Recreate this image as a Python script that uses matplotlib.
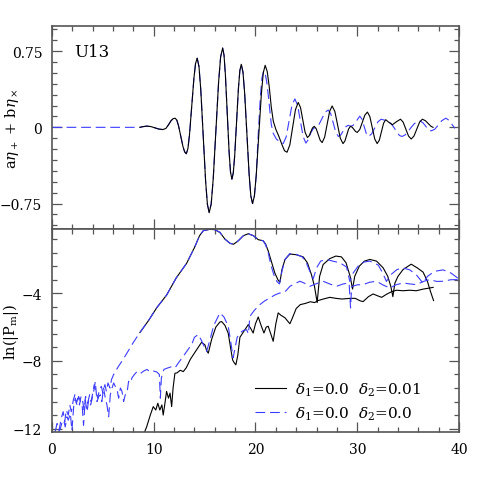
import matplotlib
matplotlib.use('Agg')
import matplotlib.pyplot as plt
from matplotlib.ticker import MultipleLocator, FixedLocator, FuncFormatter
import numpy as np

plt.rcParams['font.family'] = ['DejaVu Serif']
plt.rcParams['mathtext.fontset'] = 'dejavuserif'
plt.rcParams['lines.scale_dashes'] = False

# ---- top panel: a*eta_plus + b*eta_cross ----
# blue (delta2 = 0) is flat before the black curve starts
t_wave_lead = [0.0, 8.64]
h_wave_lead = [0.0, 0.0]

# part shared by both runs
t_wave = [8.64, 8.9, 9.3, 9.7, 10.1, 10.5, 10.9, 11.2, 11.45, 11.7, 11.9, 12.1,
          12.265, 12.43, 12.65, 12.87, 13.035, 13.2,
          13.36, 13.52, 13.735, 13.95, 14.11, 14.27,
          14.447, 14.624, 14.86, 15.096, 15.273, 15.45,
          15.648, 15.846, 16.11, 16.374, 16.572, 16.77,
          16.907, 17.043, 17.225, 17.407, 17.543, 17.68,
          17.818, 17.956, 18.14, 18.324, 18.462, 18.6,
          18.767, 18.933, 19.155, 19.377, 19.543, 19.71,
          19.89, 20.07]
h_wave = [0.0, 0.006, 0.012, 0.008, -0.005, -0.017, -0.022, -0.01, 0.025, 0.065, 0.085, 0.09,
          0.071, 0.018, -0.085, -0.188, -0.241, -0.26,
          -0.209, -0.066, 0.21, 0.486, 0.629, 0.68,
          0.597, 0.367, -0.08, -0.527, -0.757, -0.84,
          -0.752, -0.506, -0.03, 0.446, 0.692, 0.78,
          0.71, 0.514, 0.135, -0.244, -0.44, -0.51,
          -0.448, -0.277, 0.055, 0.387, 0.558, 0.62,
          0.545, 0.338, -0.065, -0.468, -0.675, -0.75,
          -0.677, -0.475]

# delta2 = 0.01 (black)
t_wave_k = [20.33, 20.578, 20.764, 20.95, 21.15, 21.35, 21.55, 21.75, 22.0, 22.3, 22.6, 22.85, 23.1,
            23.375, 23.65, 23.925, 24.2, 24.425, 24.65, 24.875, 25.1, 25.27, 25.435, 25.6, 25.77,
            25.965, 26.16, 26.355, 26.55, 26.795, 27.04, 27.285, 27.53, 27.8, 28.065, 28.33, 28.6,
            28.785, 28.97, 29.155, 29.34, 29.505, 29.67, 29.835, 30.0, 30.25, 30.5, 30.75, 31.0,
            31.24, 31.48, 31.72, 31.96, 32.17, 32.38, 32.59, 32.8, 33.1, 33.45, 33.85, 34.25,
            34.51, 34.775, 35.04, 35.3, 35.575, 35.85, 36.125, 36.4, 36.7, 37.0, 37.25, 37.45]
h_wave_k = [-0.07, 0.33, 0.536, 0.61, 0.55, 0.4, 0.2, 0.06, -0.02, -0.09, -0.17, -0.23, -0.245,
            -0.173, 0.0, 0.173, 0.245, 0.194, 0.0725, -0.049, -0.1, -0.084, -0.045, -0.006, 0.01,
            -0.013, -0.07, -0.127, -0.15, -0.097, 0.03, 0.157, 0.21, 0.156, 0.025, -0.106, -0.16,
            -0.135, -0.075, -0.015, 0.01, 0.001, -0.02, -0.041, -0.05, -0.021, 0.05, 0.121, 0.15,
            0.105, -0.005, -0.115, -0.16, -0.126, -0.0425, 0.041, 0.075, 0.05, 0.025, 0.055, 0.08,
            0.051, -0.0175, -0.086, -0.115, -0.086, -0.0175, 0.051, 0.08, 0.065, 0.035, 0.01, 0.0]

# delta2 = 0 (blue)
t_wave_b = [20.255, 20.47, 20.63, 20.8, 20.95, 21.1, 21.25, 21.4, 21.55, 21.75, 22.05, 22.4, 22.72,
            23.01, 23.295, 23.58, 23.87, 24.14, 24.41, 24.68, 24.95, 25.2, 25.45, 25.7, 25.95,
            26.25, 26.55, 26.85, 27.15, 27.4, 27.65, 27.9, 28.15, 28.39, 28.625, 28.86, 29.1,
            29.35, 29.6, 29.9, 30.25, 30.46, 30.675, 30.89, 31.1, 31.41, 31.725, 32.04, 32.35,
            32.7, 33.0, 33.3, 33.6, 33.9, 34.15, 34.4, 34.7, 35.0, 35.3, 35.6, 35.9, 36.15,
            36.45, 36.7, 36.95, 37.25, 37.6, 37.95, 38.3, 38.7, 39.0, 39.3, 39.6]
h_wave_b = [-0.0975, 0.286, 0.484, 0.555, 0.53, 0.45, 0.32, 0.17, 0.03, -0.06, -0.115, -0.145, -0.16,
            -0.096, 0.06, 0.216, 0.28, 0.216, 0.0625, -0.091, -0.155, -0.12, -0.05, -0.01, 0.0,
            0.03, 0.09, 0.15, 0.17, 0.132, 0.04, -0.052, -0.09, -0.074, -0.035, 0.004, 0.02,
            0.01, 0.02, 0.06, 0.11, 0.081, 0.01, -0.061, -0.09, -0.065, -0.005, 0.055, 0.08,
            0.07, 0.055, 0.04, 0.0, -0.05, -0.08, -0.09, -0.075, -0.04, 0.0, 0.035, 0.058, 0.065,
            0.045, 0.015, -0.02, -0.035, -0.02, 0.02, 0.065, 0.09, 0.07, 0.03, -0.01]

# ---- bottom panel: ln|P_m| ----
# upper mode, shared rise
t_pu = [8.64, 9.5, 10.3, 11.27, 12.2, 13.23, 14.0, 14.5, 14.87, 15.5, 16.0, 16.5, 17.0, 17.5, 17.85,
        18.3, 18.8, 19.29, 19.8, 20.27, 20.76]
lp_pu = [-6.32, -5.6, -4.85, -4.1, -3.1, -2.23, -1.3, -0.6, -0.3, -0.22, -0.24, -0.4, -0.8, -1.05, -1.1,
         -0.9, -0.6, -0.48, -0.6, -0.83, -0.9]

# upper mode, blue noisy start
t_pu_b0 = [0.3, 0.5, 0.7, 0.9, 1.1, 1.25, 1.4, 1.6, 1.75, 1.9, 2.1, 2.25, 2.4, 2.55, 2.7, 2.85, 3.0,
           3.15, 3.3, 3.5, 3.7, 3.85, 4.0, 4.15, 4.3, 4.5, 4.65, 4.85, 5.0, 5.2, 5.35, 5.5, 5.7,
           5.85, 6.06, 6.5, 7.0, 7.5, 8.0]
lp_pu_b0 = [-12.2, -11.7, -12.1, -11.4, -11.0, -11.6, -10.9, -11.2, -10.6, -11.0, -10.3, -10.0, -10.5,
            -10.2, -10.6, -10.1, -10.3, -10.9, -10.1, -10.5, -10.0, -10.4, -9.9, -9.4, -9.8, -10.2,
            -9.7, -9.5, -9.9, -9.4, -9.8, -9.3, -9.6, -9.1, -8.8, -8.35, -7.9, -7.4, -6.9]

# upper mode tails
t_pu_k = [21.0, 21.25, 21.6, 21.9, 22.2, 22.4, 22.6, 22.9, 23.38, 24.0, 24.69, 25.1, 25.5, 25.8, 26.06,
          26.3, 26.65, 27.3, 27.9, 28.45, 28.9, 29.3, 29.54, 29.75, 30.2, 30.7, 31.24, 31.9, 32.55,
          33.0, 33.3, 33.5, 33.7, 34.0, 34.5, 35.3, 35.9, 36.47, 36.9, 37.2, 37.5]
lp_pu_k = [-1.1, -1.5, -2.2, -2.8, -3.2, -3.35, -2.6, -2.0, -1.68, -1.72, -1.85, -2.2, -2.9, -3.6, -4.55,
           -3.0, -2.3, -1.95, -1.8, -1.85, -2.2, -3.0, -3.75, -3.0, -2.4, -2.1, -2.0, -2.1, -2.5,
           -3.0, -3.6, -4.2, -3.4, -3.0, -2.6, -2.28, -2.5, -2.75, -3.3, -3.9, -4.43]
t_pu_b = [21.0, 21.25, 21.5, 21.8, 22.1, 22.35, 22.6, 22.9, 23.38, 24.0, 24.6, 25.0, 25.4, 25.67, 26.0,
          26.4, 26.98, 27.6, 28.3, 28.95, 29.27, 29.6, 30.2, 30.7, 31.24, 32.06, 32.5, 32.87, 33.3,
          33.9, 34.5, 35.17, 35.8, 36.47, 36.9, 37.6, 38.44, 39.2, 39.9]
lp_pu_b = [-1.15, -1.6, -2.3, -2.9, -3.3, -3.45, -2.7, -2.0, -1.65, -1.7, -1.85, -2.2, -2.8, -3.15, -2.5,
           -2.1, -2.0, -2.1, -2.2, -2.45, -3.3, -2.8, -2.3, -2.15, -2.1, -2.33, -2.8, -3.3, -2.9,
           -2.6, -2.5, -2.62, -2.9, -3.41, -3.0, -2.7, -2.62, -2.8, -3.11]

# lower mode, delta2 = 0.01 (black)
t_pl_k = [9.1, 9.3, 9.66, 9.95, 10.2, 10.4, 10.6, 10.8, 10.93, 11.1, 11.26, 11.45, 11.6, 11.76, 11.9,
          12.08, 12.3, 12.6, 12.9, 13.2, 13.6, 14.2, 14.7, 15.03, 15.2, 15.36, 15.7, 16.1, 16.5,
          16.67, 17.0, 17.32, 17.6, 17.75, 17.9, 18.07, 18.25, 18.47, 18.8, 19.29, 19.55, 19.77,
          20.0, 20.27, 20.55, 20.83, 21.05, 21.25, 21.5, 21.74, 22.0, 22.23, 22.5, 22.9, 23.1,
          23.38, 23.6, 24.0, 24.4, 24.9, 25.4, 25.8, 26.16, 26.6, 27.3, 27.9, 28.5, 29.27, 29.8,
          30.3, 30.58, 31.1, 31.56, 32.0, 32.4, 32.9, 33.4, 33.86, 34.5, 35.17, 35.8, 36.5, 37.0,
          37.46]
lp_pl_k = [-12.2, -11.9, -11.2, -10.7, -10.9, -10.5, -10.9, -10.6, -11.2, -10.5, -9.8, -10.2, -9.9,
           -10.7, -9.6, -8.73, -8.7, -8.55, -8.63, -8.4, -7.9, -7.35, -6.9, -7.05, -7.4, -7.54, -6.7,
           -6.0, -5.7, -5.67, -5.9, -6.36, -7.4, -7.94, -8.1, -8.23, -7.7, -6.6, -6.3, -5.85, -6.1,
           -6.35, -5.8, -5.4, -5.9, -6.35, -6.0, -5.95, -6.4, -6.84, -5.8, -5.16, -5.3, -5.45, -5.6,
           -5.8, -5.5, -4.9, -4.67, -4.6, -4.5, -4.55, -4.43, -4.35, -4.24, -4.3, -4.34, -4.3, -4.3,
           -4.45, -4.49, -4.2, -4.04, -4.15, -4.24, -4.05, -3.9, -3.82, -3.85, -3.82, -3.85, -3.75,
           -3.7, -3.65]

# lower mode, delta2 = 0 (blue)
t_pl_b = [0.65, 0.82, 1.0, 1.15, 1.3, 1.47, 1.6, 1.8, 1.96, 2.13, 2.29, 2.45, 2.62, 2.8, 2.95, 3.1,
          3.27, 3.45, 3.6, 3.8, 3.95, 4.1, 4.26, 4.42, 4.6, 4.75, 4.9, 5.07, 5.24, 5.4, 5.57, 5.73,
          5.9, 6.06, 6.22, 6.4, 6.55, 6.72, 6.88, 7.04, 7.2, 7.37, 7.53, 7.7, 7.86, 8.1, 8.35, 8.68,
          9.0, 9.33, 9.66, 10.0, 10.3, 10.55, 10.65, 10.75, 11.0, 11.3, 11.79, 12.1, 12.44, 12.9,
          13.4, 13.75, 14.0, 14.37, 14.7, 15.0, 15.2, 15.5, 15.9, 16.5, 16.9, 17.32, 17.6, 17.8,
          18.0, 18.2, 18.47, 18.8, 19.13, 19.3, 19.45, 19.9, 20.43, 20.9, 21.4, 21.9, 22.4, 22.7,
          23.0, 23.38, 23.8, 24.36, 24.8, 25.34, 25.9, 26.65, 27.3, 27.96, 28.6, 29.2, 29.34,
          29.45, 30.0, 30.58, 31.2, 31.9, 32.5, 33.2, 33.8, 34.5, 35.2, 35.82, 36.5, 37.13, 37.8,
          38.44, 39.2, 39.9]
lp_pl_b = [-12.2, -12.0, -11.6, -11.5, -11.9, -11.3, -11.5, -11.1, -12.1, -10.7, -10.2, -10.6, -10.1,
           -10.4, -10.5, -11.8, -10.3, -11.0, -10.3, -10.6, -10.2, -9.8, -9.22, -10.4, -10.1, -10.0,
           -10.4, -9.6, -10.2, -10.6, -11.3, -10.0, -9.6, -9.3, -9.5, -9.7, -10.2, -9.6, -9.8, -10.4,
           -10.0, -9.9, -9.2, -9.3, -9.0, -8.8, -8.63, -8.75, -8.6, -8.5, -8.65, -8.6, -8.65, -8.8,
           -10.2, -9.0, -8.5, -8.43, -8.33, -8.4, -8.1, -7.73, -7.3, -7.0, -6.6, -6.44, -6.8, -7.2,
           -7.43, -6.8, -5.9, -5.16, -5.4, -5.95, -7.0, -7.82, -7.2, -6.6, -6.35, -6.2, -6.15, -6.4,
           -5.36, -5.0, -4.67, -4.45, -4.28, -4.1, -3.98, -3.98, -3.85, -3.59, -3.45, -3.29, -3.4,
           -3.59, -3.45, -3.29, -3.45, -3.59, -3.45, -3.39, -4.87, -3.6, -3.5, -3.49, -3.35, -3.29,
           -3.5, -3.69, -3.5, -3.39, -3.45, -3.49, -3.3, -3.19, -3.3, -3.29, -3.2, -3.19]

labels = [r'$\delta_1$=0.0  $\delta_2$=0.01', r'$\delta_1$=0.0  $\delta_2$=0.0']

BLACK = 'black'
BLUE = '#3c3cff'
LW = 0.8
DASH = (0, (7, 3.5))

fig = plt.figure(figsize=(4.85, 4.85), dpi=100)
ax1 = fig.add_axes([0.1072, 0.5258, 0.8392, 0.4192])
ax2 = fig.add_axes([0.1072, 0.1072, 0.8392, 0.4186], sharex=ax1)

# top
ax1.plot(t_wave_lead + t_wave + t_wave_b, h_wave_lead + h_wave + h_wave_b,
         color=BLUE, lw=LW, ls=DASH)
ax1.plot(t_wave + t_wave_k, h_wave + h_wave_k, color=BLACK, lw=LW)

# bottom
l_k, = ax2.plot(t_pu + t_pu_k, lp_pu + lp_pu_k, color=BLACK, lw=LW)
ax2.plot(t_pl_k, lp_pl_k, color=BLACK, lw=LW)
l_b, = ax2.plot(t_pu_b0 + t_pu + t_pu_b, lp_pu_b0 + lp_pu + lp_pu_b,
                color=BLUE, lw=LW, ls=DASH)
ax2.plot(t_pl_b, lp_pl_b, color=BLUE, lw=LW, ls=DASH)

ax1.set_xlim(0, 40)
ax1.set_ylim(-1.0, 1.0)
ax2.set_ylim(-12.2, -0.2)


def fmt(v, pos):
    if abs(v) < 1e-9:
        return '0'
    return f'{v:g}'.replace('-', '\u2212')


for ax in (ax1, ax2):
    ax.xaxis.set_major_locator(MultipleLocator(10))
    ax.xaxis.set_minor_locator(MultipleLocator(2))
    ax.tick_params(which='both', direction='in', top=True, right=True,
                   color='#555555', labelsize=10, pad=7)
    ax.tick_params(which='major', length=7, width=0.9)
    ax.tick_params(which='minor', length=3.5, width=0.9)
    for s in ax.spines.values():
        s.set_color('#555555')
        s.set_linewidth(1.2)

ax1.yaxis.set_major_locator(FixedLocator([-0.75, 0, 0.75]))
ax1.yaxis.set_minor_locator(MultipleLocator(0.75 / 7))
ax1.yaxis.set_major_formatter(FuncFormatter(fmt))
ax1.tick_params(axis='x', labelbottom=False)

ax2.yaxis.set_major_locator(FixedLocator([-12, -8, -4]))
ax2.yaxis.set_minor_locator(MultipleLocator(0.8))
ax2.yaxis.set_major_formatter(FuncFormatter(fmt))
ax2.xaxis.set_major_formatter(FuncFormatter(fmt))

ax1.set_ylabel(r'a$\eta_+$ + b$\eta_\times$', fontsize=10.5)
ax2.set_ylabel(r'ln(|P$_{\rm m}$|)', fontsize=10.5)
ax1.yaxis.set_label_coords(-0.075, 0.5)
ax2.yaxis.set_label_coords(-0.075, 0.5)

ax1.text(0.054, 0.875, 'U13', transform=ax1.transAxes, fontsize=12,
         ha='left', va='center')

ax2.legend([l_k, l_b], labels, loc='lower right', bbox_to_anchor=(0.925, 0.012),
           frameon=False, fontsize=11, handlelength=2.0, handletextpad=0.6,
           labelspacing=0.45, borderpad=0.0)

fig.savefig('out.png', dpi=100)
